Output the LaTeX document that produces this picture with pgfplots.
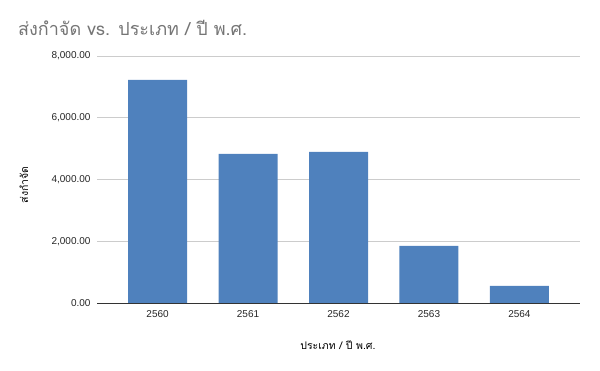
\documentclass[border=0pt]{standalone}
\usepackage{fontspec}
\usepackage{pgfplots}
\pgfplotsset{compat=1.18}
\setmainfont{Liberation Sans}
\newfontfamily\thaifont[Script=Thai]{Loma}
\definecolor{barblue}{RGB}{79,129,189}
\definecolor{titlegray}{RGB}{117,117,117}
\definecolor{gridgray}{RGB}{204,204,204}
\begin{document}
\begin{tikzpicture}
\path (0,0) rectangle (600pt,371pt);
\node[anchor=base west, text=titlegray, font=\thaifont\fontsize{18}{20}\selectfont, inner sep=0pt] at (18pt,335pt) {ส่งกำจัด vs. ประเภท / ปี พ.ศ.};
\node[rotate=90, font=\thaifont\fontsize{10.5}{12}\selectfont, inner sep=0pt] at (24pt,186pt) {ส่งกำจัด};
\node[font=\thaifont\fontsize{10.5}{12}\selectfont, inner sep=0pt] at (338pt,26pt) {ประเภท / ปี พ.ศ.};
\begin{axis}[
  at={(97pt,68pt)}, anchor=south west,
  scale only axis, width=483pt, height=247pt,
  xmin=-0.67, xmax=4.67, ymin=0, ymax=8000,
  xtick=data, xticklabels={2560,2561,2562,2563,2564},
  ytick={0,2000,4000,6000,8000},
  ymajorgrids, grid style={gridgray, line width=0.8pt},
  axis x line*=bottom, axis y line*=left,
  y axis line style={draw=none},
  x axis line style={draw=black!80, line width=0.8pt},
  major tick length=0pt,
  tick label style={font=\fontsize{10}{12}\selectfont, text=black!85},
  /pgf/number format/assume math mode=true,
  scaled y ticks=false,
  yticklabel={\pgfmathprintnumber[fixed, fixed zerofill, precision=2, 1000 sep={,}, assume math mode=true]{\tick}},
  xticklabel style={yshift=-4pt},
  yticklabel style={xshift=-3pt},
  ybar, bar width=59pt,
]
\addplot[fill=barblue, draw=none] coordinates {(0,7223) (1,4826) (2,4891) (3,1846) (4,551)};
\end{axis}
\end{tikzpicture}
\end{document}
